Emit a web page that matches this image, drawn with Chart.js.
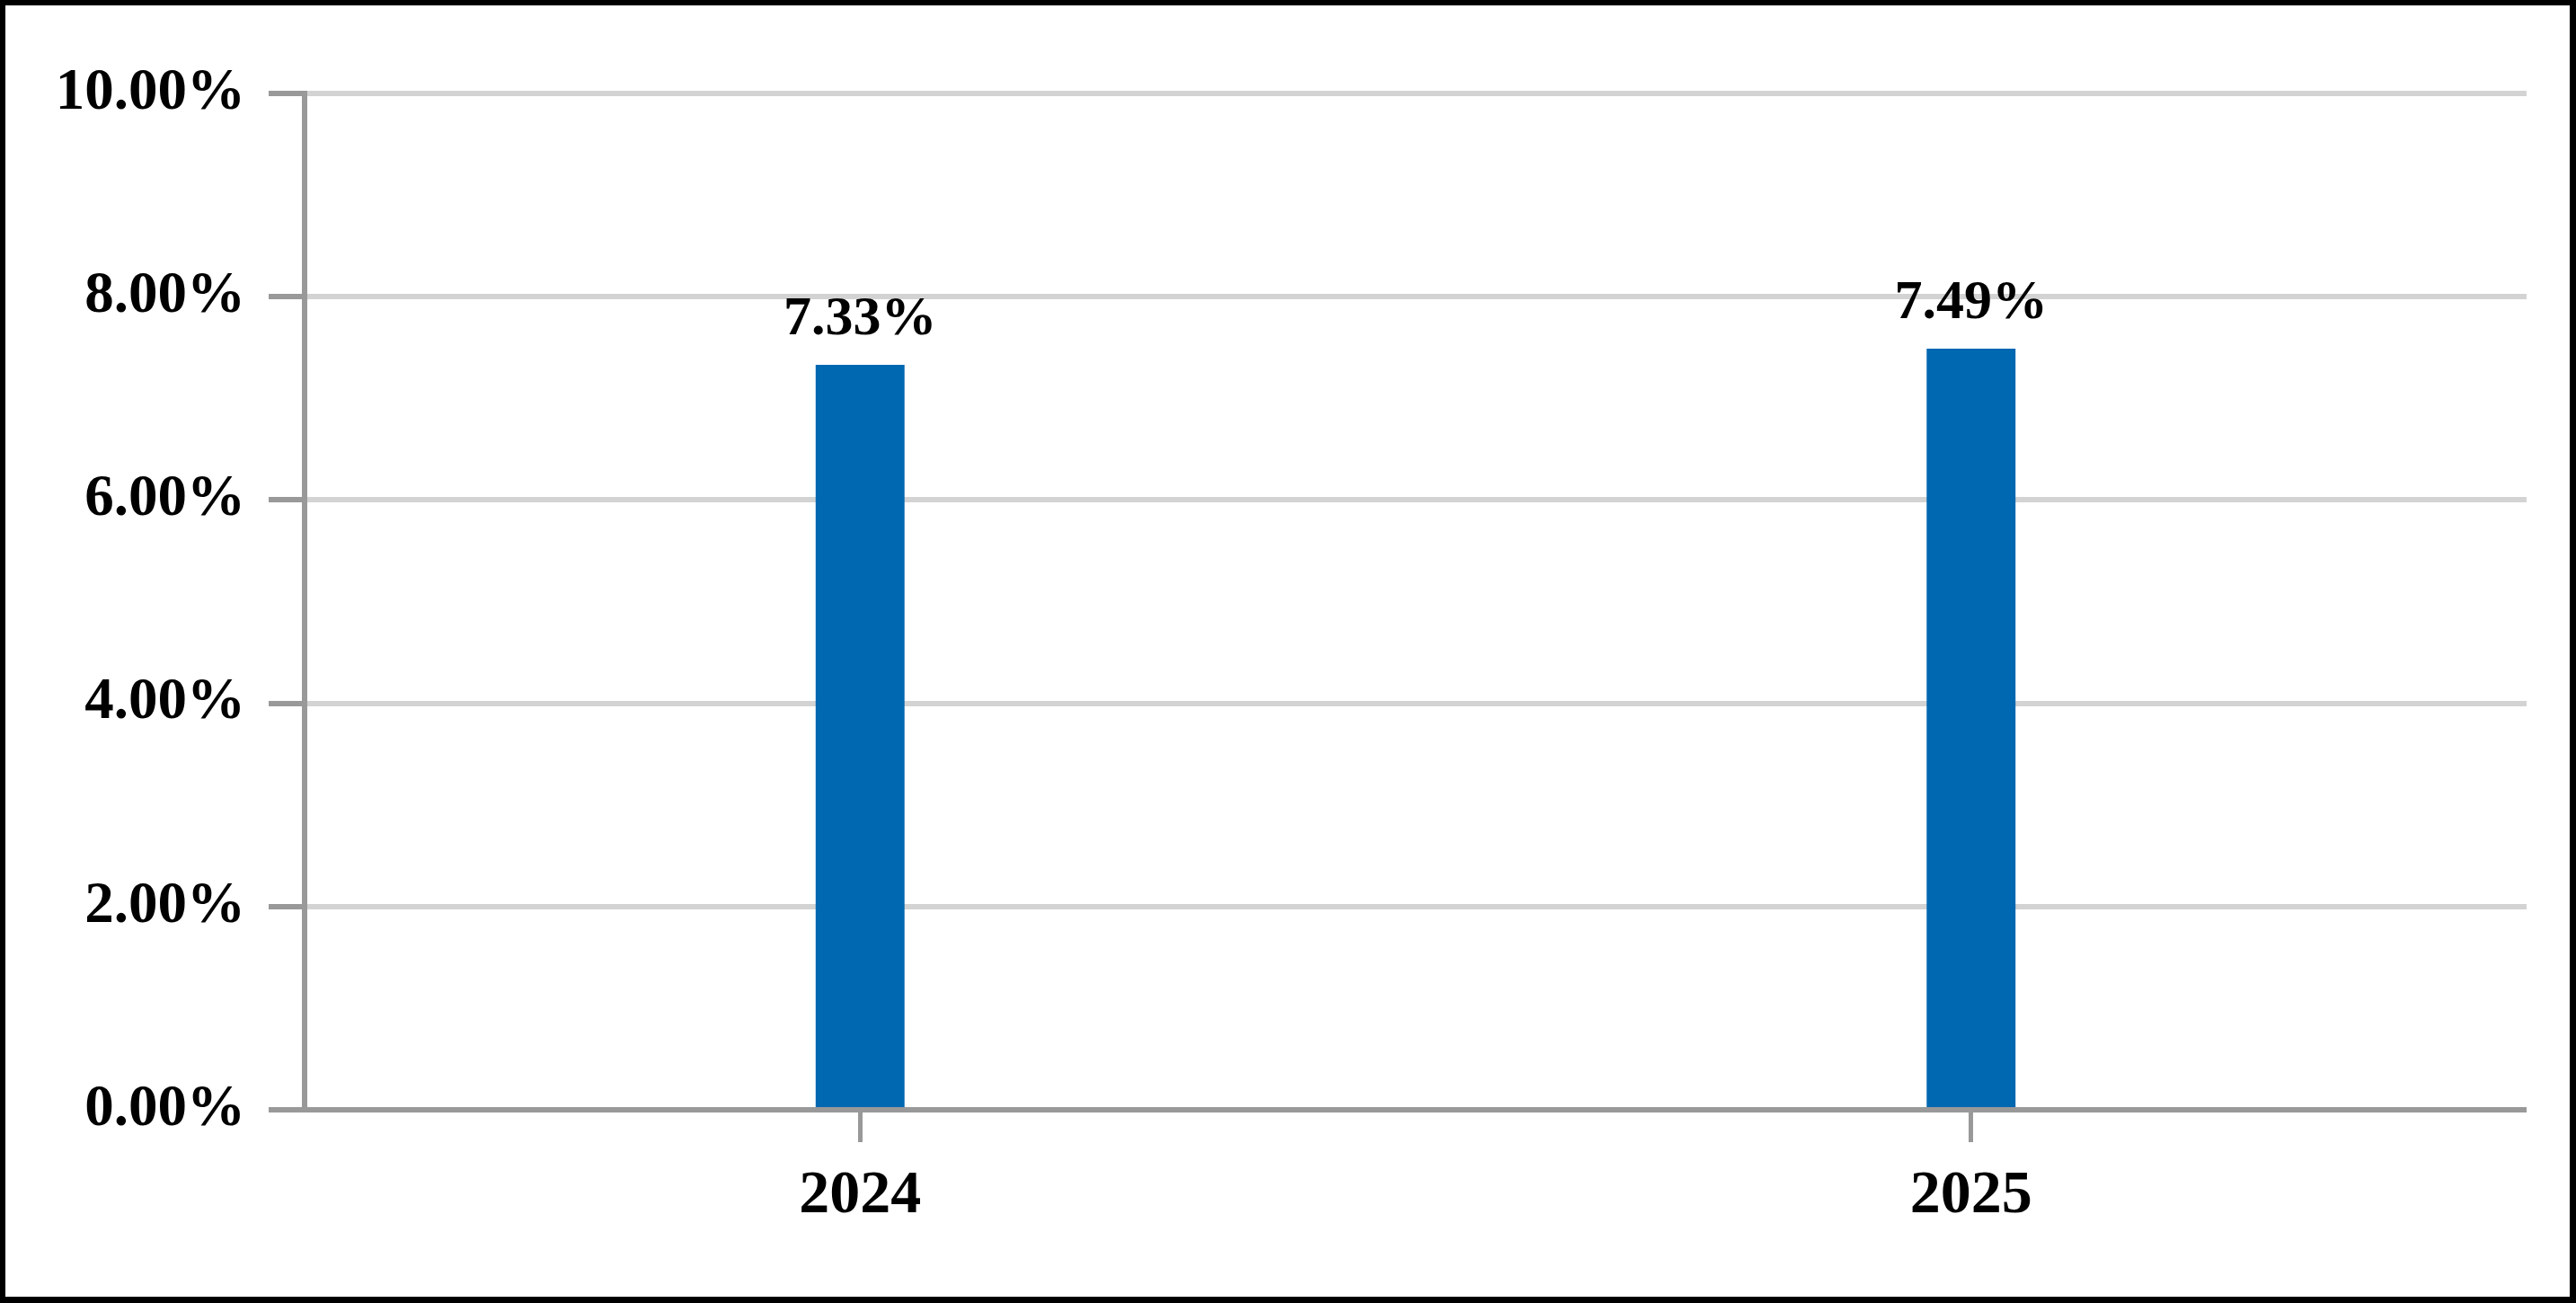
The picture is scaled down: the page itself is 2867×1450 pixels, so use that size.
<!DOCTYPE html>
<html>
<head>
<meta charset="utf-8">
<script src="https://cdn.jsdelivr.net/npm/chart.js@4.4.0/dist/chart.umd.min.js"></script>
<style>
    html, body { margin: 0; padding: 0; background: #fff; }
    #chart-container { position: relative; width: 2867px; height: 1450px; }
</style>
</head>
<body>
<div id="chart-container"><canvas id="rateChart"></canvas></div>
<script>
// 数据
const years = ['2024', '2025'];
const rates = [7.33, 7.49];
const yMin = 0, yMax = 10, yStep = 2;

const serif = '"Liberation Serif", "Times New Roman", serif';

// 柱顶数值标签
const valueLabels = {
    id: 'valueLabels',
    afterDatasetsDraw(chart) {
        const ctx = chart.ctx;
        const meta = chart.getDatasetMeta(0);
        ctx.save();
        ctx.font = 'bold 62px ' + serif;
        ctx.fillStyle = '#000';
        ctx.textAlign = 'center';
        ctx.textBaseline = 'alphabetic';
        meta.data.forEach((bar, i) => {
            ctx.fillText(rates[i].toFixed(2) + '%', bar.x, bar.y - 34);
        });
        ctx.restore();
    }
};

// 白底 + 黑框
const frame = {
    id: 'frame',
    beforeDraw(chart) {
        const { ctx, width, height } = chart;
        ctx.save();
        ctx.fillStyle = '#fff';
        ctx.fillRect(0, 0, width, height);
        ctx.restore();
    },
    afterDraw(chart) {
        const { ctx, width, height } = chart;
        ctx.save();
        ctx.fillStyle = '#000';
        ctx.fillRect(0, 0, width, 6);
        ctx.fillRect(0, height - 7, width, 7);
        ctx.fillRect(0, 0, 6, height);
        ctx.fillRect(width - 7, 0, 7, height);
        ctx.restore();
    }
};

new Chart(document.getElementById('rateChart'), {
    type: 'bar',
    data: {
        labels: years,
        datasets: [{
            data: rates,
            backgroundColor: '#0067b1',
            borderWidth: 0,
            barPercentage: 0.08,
            categoryPercentage: 1.0
        }]
    },
    options: {
        responsive: true,
        maintainAspectRatio: false,
        animation: false,
        layout: { padding: { top: 104, right: 55, bottom: 0, left: 0 } },
        plugins: {
            legend: { display: false },
            tooltip: { enabled: false }
        },
        scales: {
            x: {
                offset: true,
                grid: {
                    offset: false,
                    drawOnChartArea: false,
                    drawTicks: true,
                    tickLength: 36,
                    tickColor: '#999',
                    tickWidth: 5,
                    z: 1
                },
                border: { color: '#999', width: 6 },
                ticks: {
                    color: '#000',
                    padding: 20,
                    font: { family: serif, size: 68, weight: 'bold' }
                },
                afterFit: (s) => { s.height = 215; }
            },
            y: {
                min: yMin,
                max: yMax,
                grid: {
                    color: (c) => (c.tick && c.tick.value === 0 ? '#999' : '#d3d3d3'),
                    lineWidth: 6,
                    tickColor: '#999',
                    tickLength: 40,
                    tickWidth: 6
                },
                border: { color: '#999', width: 6 },
                ticks: {
                    stepSize: yStep,
                    color: '#000',
                    padding: 26,
                    font: { family: serif, size: 65, weight: 'bold' },
                    callback: (v) => v.toFixed(2) + '%'
                },
                afterFit: (s) => { s.width = 339; }
            }
        }
    },
    plugins: [frame, valueLabels]
});
</script>
</body>
</html>
